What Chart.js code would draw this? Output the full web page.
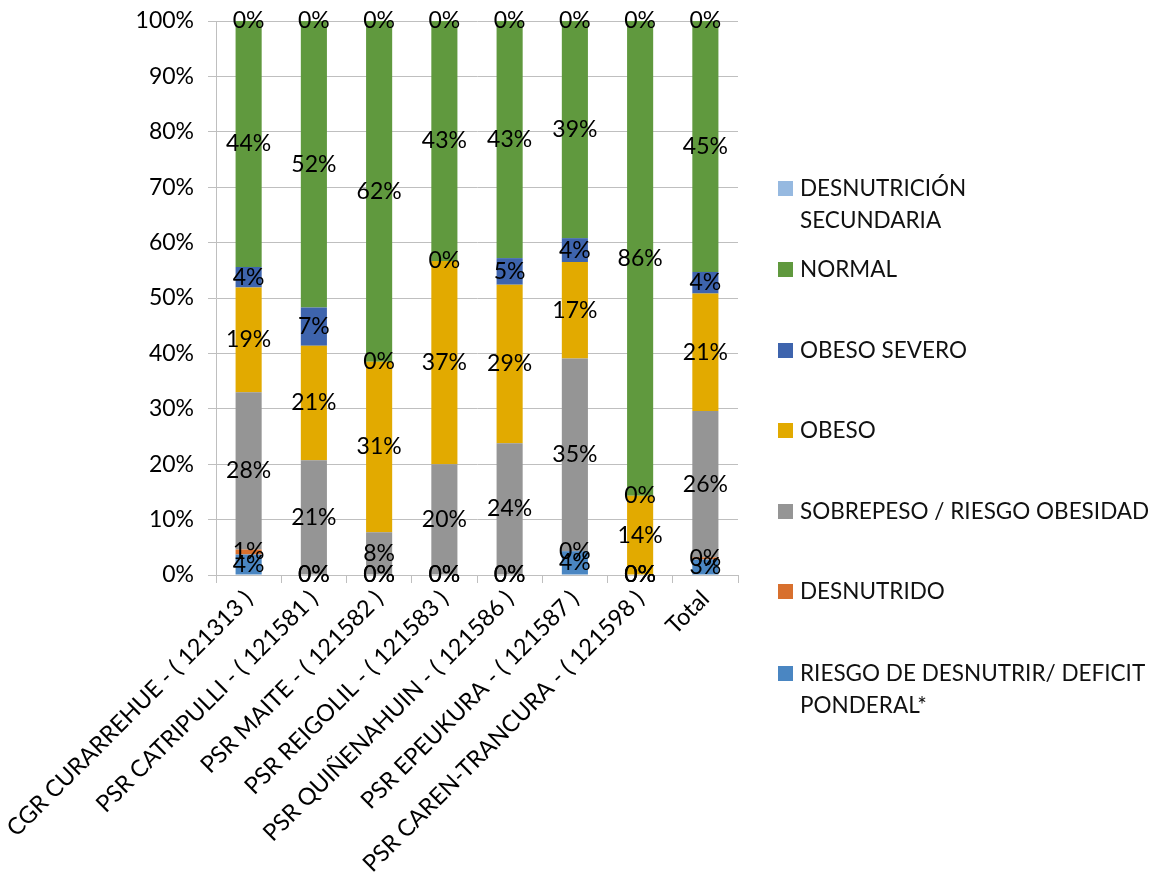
<!DOCTYPE html>
<html>
<head>
<meta charset="utf-8">
<script src="https://cdn.jsdelivr.net/npm/chart.js@4.4.1/dist/chart.umd.min.js"></script>
<style>
  html, body { margin: 0; padding: 0; background: #ffffff; }
  #wrap { position: relative; width: 1158px; height: 880px; }
  #chart { position: absolute; left: 0; top: 0; }
  #legend { position: absolute; left: 778px; top: 0; font-family: Lato, "Open Sans", sans-serif; font-size: 22.5px; color: #111111; }
  .item { position: absolute; left: 0; display: flex; align-items: flex-start; white-space: nowrap; }
  .box { width: 15px; height: 15px; margin-top: 9px; margin-right: 7px; flex: none; }
  .txt { line-height: 32px; }
</style>
</head>
<body>
<div id="wrap">
  <canvas id="chart" width="1158" height="880"></canvas>
  <div id="legend"></div>
</div>
<script>
// Health centres, plus the overall total
const categories = [
  'CGR CURARREHUE - ( 121313 )',
  'PSR CATRIPULLI - ( 121581 )',
  'PSR MAITE - ( 121582 )',
  'PSR REIGOLIL - ( 121583 )',
  'PSR QUIÑENAHUIN - ( 121586 )',
  'PSR EPEUKURA - ( 121587 )',
  'PSR CAREN-TRANCURA - ( 121598 )',
  'Total'
];

// Share of each nutritional status per centre (%), bottom of the stack first
const riesgoDesnutrir        = [3.7,  0,    0,    0,    0,    4.3,  0,    2.8];
const desnutrido             = [0.9,  0,    0,    0,    0,    0,    0,    0.4];
const sobrepeso              = [28.4, 20.7, 7.7,  20.0, 23.8, 34.8, 0,    26.4];
const obeso                  = [18.9, 20.7, 30.8, 36.7, 28.6, 17.4, 14.3, 21.2];
const obesoSevero            = [3.7,  6.9,  0,    0,    4.8,  4.3,  0,    3.9];
const normal                 = [44.4, 51.7, 61.5, 43.3, 42.8, 39.2, 85.7, 45.3];
const desnutricionSecundaria = [0,    0,    0,    0,    0,    0,    0,    0];

const yTicks = [0, 10, 20, 30, 40, 50, 60, 70, 80, 90, 100];

const FONT = 'Lato, "Open Sans", sans-serif';

const series = [
  { label: ['RIESGO DE DESNUTRIR/ DEFICIT', 'PONDERAL*'], data: riesgoDesnutrir, color: '#4a86c2' },
  { label: ['DESNUTRIDO'], data: desnutrido, color: '#d8702e' },
  { label: ['SOBREPESO / RIESGO OBESIDAD'], data: sobrepeso, color: '#959595' },
  { label: ['OBESO'], data: obeso, color: '#e2aa00' },
  { label: ['OBESO SEVERO'], data: obesoSevero, color: '#3e64ad' },
  { label: ['NORMAL'], data: normal, color: '#60993e' },
  { label: ['DESNUTRICIÓN', 'SECUNDARIA'], data: desnutricionSecundaria, color: '#96b9e0' }
];

// Percentage label in the middle of every stacked segment (zero segments included)
const segmentLabels = {
  id: 'segmentLabels',
  afterDatasetsDraw(chart) {
    const ctx = chart.ctx;
    ctx.save();
    ctx.font = '23px ' + FONT;
    ctx.fillStyle = '#000000';
    ctx.textAlign = 'center';
    ctx.textBaseline = 'middle';
    chart.data.datasets.forEach((ds, i) => {
      const meta = chart.getDatasetMeta(i);
      meta.data.forEach((bar, j) => {
        const v = ds.data[j];
        const cy = (bar.y + bar.base) / 2;
        ctx.fillText(Math.round(v) + '%', bar.x, cy);
      });
    });
    ctx.restore();
  }
};

const chart = new Chart(document.getElementById('chart'), {
  type: 'bar',
  data: {
    labels: categories,
    datasets: series.map(s => ({
      label: s.label.join(' '),
      data: s.data,
      backgroundColor: s.color,
      borderWidth: 0,
      barPercentage: 0.4,
      categoryPercentage: 1.0
    }))
  },
  options: {
    responsive: false,
    animation: false,
    layout: { padding: { left: 0, top: 21, right: 420, bottom: 0 } },
    plugins: {
      legend: { display: false },
      tooltip: { enabled: false }
    },
    scales: {
      x: {
        stacked: true,
        grid: { drawOnChartArea: false, drawTicks: true, tickLength: 8, color: '#bfbfbf', offset: true },
        border: { display: true, color: '#bfbfbf' },
        ticks: {
          minRotation: 45, maxRotation: 45, padding: 2,
          color: '#000000', font: { family: FONT, size: 23.5 }
        },
        afterFit(scale) { scale.height = 305; scale.paddingLeft = 0; scale.paddingRight = 0; }
      },
      y: {
        stacked: true,
        min: 0, max: 100,
        afterBuildTicks(scale) { scale.ticks = yTicks.map(v => ({ value: v })); },
        grid: { color: '#bfbfbf', tickLength: 8 },
        border: { display: true, color: '#bfbfbf' },
        ticks: {
          padding: 14, color: '#000000', font: { family: FONT, size: 23 },
          callback: v => v + '%'
        },
        afterFit(scale) { scale.width = 216; scale.paddingTop = 0; scale.paddingBottom = 0; }
      }
    }
  },
  plugins: [segmentLabels]
});

// Legend, top entry = top of the stack
const legendEl = document.getElementById('legend');
const legendTops = [172, 253, 334, 414, 495, 575, 657];
series.slice().reverse().forEach((s, k) => {
  const item = document.createElement('div');
  item.className = 'item';
  item.style.top = legendTops[k] + 'px';
  const box = document.createElement('div');
  box.className = 'box';
  box.style.background = s.color;
  const txt = document.createElement('div');
  txt.className = 'txt';
  txt.innerHTML = s.label.join('<br>');
  item.appendChild(box);
  item.appendChild(txt);
  legendEl.appendChild(item);
});
</script>
</body>
</html>
